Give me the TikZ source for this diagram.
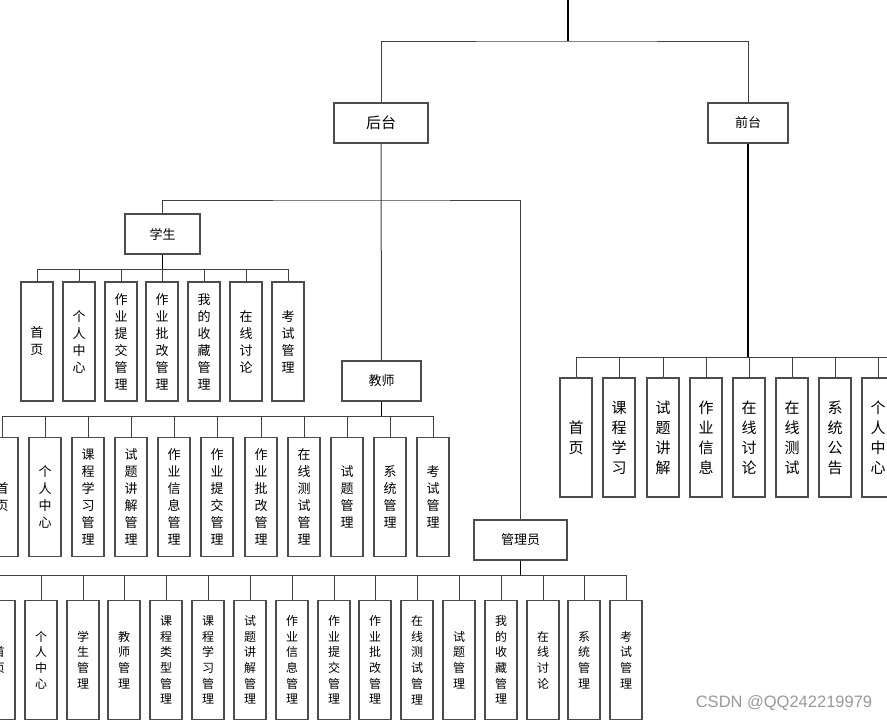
\documentclass[tikz,border=0pt]{standalone}
\usepackage{fontspec}
\newfontfamily\cjk{Noto Sans CJK SC}
\setsansfont{Liberation Sans}
\tikzstyle{topbox} = [draw=black!70, fill=white, line width=1.1pt,
    minimum height=40pt, inner sep=0pt, font=\cjk\fontsize{13}{15}\selectfont]
\tikzstyle{leaf} = [draw=black!70, fill=white, line width=1.1pt,
    minimum width=32pt, minimum height=119pt, inner sep=0pt, align=center,
    font=\cjk\fontsize{13}{17}\selectfont]
\tikzstyle{adminleaf} = [leaf, font=\cjk\fontsize{12}{15.7}\selectfont]
\tikzstyle{frontleaf} = [leaf, font=\cjk\fontsize{15}{20}\selectfont]
\tikzstyle{trunk} = [draw=black, line width=1.6pt]
\tikzstyle{branch} = [draw=black!75, line width=1pt]

\begin{document}
\begin{tikzpicture}[x=1pt, y=-1pt]
\useasboundingbox (0,0) rectangle (887,721);
\clip (0,0) rectangle (887,721);
\fill[white] (0,0) rectangle (887,721);

% top level
\coordinate (root) at (568,0);
\coordinate (rb) at (568,41);
\node[topbox, minimum width=94pt, font=\cjk\fontsize{15}{17}\selectfont] (back) at (381,123) {后台};
\node[topbox, minimum width=80pt] (front) at (748,123) {前台};
\draw[trunk] (root) -- (rb);
\draw[branch] (back.north) |- (rb) -| (front.north);

% roles under back
\coordinate (bb) at (381,200);
\node[topbox, minimum width=75pt] (stu) at (162.5,234) {学生};
\node[topbox, minimum width=79pt] (tea) at (381.5,381) {教师};
\node[topbox, minimum width=93pt] (adm) at (520.5,540) {管理员};
\draw[branch] (back.south) -- (tea.north);
\draw[branch] (stu.north) |- (bb) -| (adm.north);

% student
\coordinate (sb) at (162,269);
\node[leaf] (s1) at (37,341.5) {首\\页};
\node[leaf] (s2) at (79,341.5) {个\\人\\中\\心};
\node[leaf] (s3) at (121,341.5) {作\\业\\提\\交\\管\\理};
\node[leaf] (s4) at (162,341.5) {作\\业\\批\\改\\管\\理};
\node[leaf] (s5) at (204,341.5) {我\\的\\收\\藏\\管\\理};
\node[leaf] (s6) at (246,341.5) {在\\线\\讨\\论};
\node[leaf] (s7) at (288,341.5) {考\\试\\管\\理};
\draw[trunk] (stu.south) -- (stu.south |- sb);
\draw[branch] (s1.north |- sb) -- (s7.north |- sb);
\foreach \i in {1,...,7} \draw[branch] (s\i.north) -- (s\i.north |- sb);

% teacher
\coordinate (tb) at (381,416);
\node[leaf] (t1) at (2,497) {首\\页};
\node[leaf] (t2) at (45,497) {个\\人\\中\\心};
\node[leaf] (t3) at (88,497) {课\\程\\学\\习\\管\\理};
\node[leaf] (t4) at (131,497) {试\\题\\讲\\解\\管\\理};
\node[leaf] (t5) at (174,497) {作\\业\\信\\息\\管\\理};
\node[leaf] (t6) at (217,497) {作\\业\\提\\交\\管\\理};
\node[leaf] (t7) at (261,497) {作\\业\\批\\改\\管\\理};
\node[leaf] (t8) at (304,497) {在\\线\\测\\试\\管\\理};
\node[leaf] (t9) at (347,497) {试\\题\\管\\理};
\node[leaf] (t10) at (390,497) {系\\统\\管\\理};
\node[leaf] (t11) at (433,497) {考\\试\\管\\理};
\draw[trunk] (tea.south) -- (tea.south |- tb);
\draw[branch] (t1.north |- tb) -- (t11.north |- tb);
\foreach \i in {1,...,11} \draw[branch] (t\i.north) -- (t\i.north |- tb);

% admin
\coordinate (ab) at (520,575);
\node[adminleaf] (a1) at (-1,660) {首\\页};
\node[adminleaf] (a2) at (41,660) {个\\人\\中\\心};
\node[adminleaf] (a3) at (83,660) {学\\生\\管\\理};
\node[adminleaf] (a4) at (124,660) {教\\师\\管\\理};
\node[adminleaf] (a5) at (166,660) {课\\程\\类\\型\\管\\理};
\node[adminleaf] (a6) at (208,660) {课\\程\\学\\习\\管\\理};
\node[adminleaf] (a7) at (250,660) {试\\题\\讲\\解\\管\\理};
\node[adminleaf] (a8) at (292,660) {作\\业\\信\\息\\管\\理};
\node[adminleaf] (a9) at (334,660) {作\\业\\提\\交\\管\\理};
\node[adminleaf] (a10) at (375,660) {作\\业\\批\\改\\管\\理};
\node[adminleaf] (a11) at (417,660) {在\\线\\测\\试\\管\\理};
\node[adminleaf] (a12) at (459,660) {试\\题\\管\\理};
\node[adminleaf] (a13) at (501,660) {我\\的\\收\\藏\\管\\理};
\node[adminleaf] (a14) at (543,660) {在\\线\\讨\\论};
\node[adminleaf] (a15) at (584,660) {系\\统\\管\\理};
\node[adminleaf] (a16) at (626,660) {考\\试\\管\\理};
\draw[trunk] (adm.south) -- (adm.south |- ab);
\draw[branch] (a1.north |- ab) -- (a16.north |- ab);
\foreach \i in {1,...,16} \draw[branch] (a\i.north) -- (a\i.north |- ab);

% front
\coordinate (fb) at (748,357);
\coordinate (fe) at (890,357);
\node[frontleaf] (f1) at (576,437.5) {首\\页};
\node[frontleaf] (f2) at (619,437.5) {课\\程\\学\\习};
\node[frontleaf] (f3) at (663,437.5) {试\\题\\讲\\解};
\node[frontleaf] (f4) at (706,437.5) {作\\业\\信\\息};
\node[frontleaf] (f5) at (749,437.5) {在\\线\\讨\\论};
\node[frontleaf] (f6) at (792,437.5) {在\\线\\测\\试};
\node[frontleaf] (f7) at (835,437.5) {系\\统\\公\\告};
\node[frontleaf] (f8) at (878,437.5) {个\\人\\中\\心};
\draw[trunk] (front.south) -- (front.south |- fb);
\draw[branch] (f1.north |- fb) -- (fe);
\foreach \i in {1,...,8} \draw[branch] (f\i.north) -- (f\i.north |- fb);

\node[text=black!40, font=\sffamily\fontsize{16.5}{18}\selectfont] (mark) at (784,703) {CSDN @QQ242219979};
\end{tikzpicture}
\end{document}
